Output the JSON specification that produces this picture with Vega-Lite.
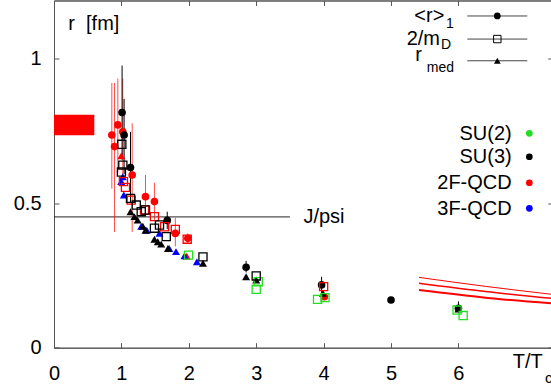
{
  "$schema": "https://vega.github.io/schema/vega-lite/v6.json",
  "width": 498.8,
  "height": 347.2,
  "autosize": {"type": "none"},
  "padding": {"left": 54, "top": 0.5, "right": 0, "bottom": 42},
  "config": {
    "view": {"stroke": "#555555", "strokeWidth": 1},
    "axis": {"grid": false, "domainColor": "#555555", "tickColor": "#555555", "labelFont": "Liberation Sans", "labelFontSize": 20, "labelColor": "#000000"},
    "text": {"font": "Liberation Sans", "fontSize": 20, "color": "#000000"}
  },
  "datasets": {
    "pts": [
      {"T": 0.858, "r": 0.735, "lo": 0.55, "hi": 0.915, "q": "r1", "g": "2F-QCD"},
      {"T": 0.898, "r": 0.695, "lo": 0.40, "hi": 0.915, "q": "r1", "g": "2F-QCD"},
      {"T": 0.947, "r": 0.77, "lo": 0.6, "hi": 0.93, "q": "r1", "g": "2F-QCD"},
      {"T": 1.02, "r": 0.746, "lo": 0.56, "hi": 0.93, "q": "r1", "g": "2F-QCD"},
      {"T": 1.16, "r": 0.597, "lo": 0.40, "hi": 0.776, "q": "r1", "g": "2F-QCD"},
      {"T": 1.357, "r": 0.522, "lo": 0.465, "hi": 0.597, "q": "r1", "g": "2F-QCD"},
      {"T": 1.49, "r": 0.505, "lo": 0.44, "hi": 0.57, "q": "r1", "g": "2F-QCD"},
      {"T": 1.8, "r": 0.395, "lo": 0.35, "hi": 0.448, "q": "r1", "g": "2F-QCD"},
      {"T": 1.985, "r": 0.378, "lo": 0.36, "hi": 0.395, "q": "r1", "g": "2F-QCD"},
      {"T": 4.01, "r": 0.176, "q": "r1", "g": "2F-QCD"},
      {"T": 1.03, "r": 0.574, "q": "mD", "g": "2F-QCD"},
      {"T": 1.06, "r": 0.554, "q": "mD", "g": "2F-QCD"},
      {"T": 1.145, "r": 0.51, "q": "mD", "g": "2F-QCD"},
      {"T": 1.343, "r": 0.476, "q": "mD", "g": "2F-QCD"},
      {"T": 1.49, "r": 0.453, "q": "mD", "g": "2F-QCD"},
      {"T": 1.64, "r": 0.418, "q": "mD", "g": "2F-QCD"},
      {"T": 1.8, "r": 0.409, "q": "mD", "g": "2F-QCD"},
      {"T": 1.976, "r": 0.375, "q": "mD", "g": "2F-QCD"},
      {"T": 4.0, "r": 0.211, "q": "mD", "g": "2F-QCD"},
      {"T": 0.997, "r": 0.663, "q": "rmed", "g": "2F-QCD"},
      {"T": 1.97, "r": 0.316, "q": "rmed", "g": "2F-QCD"},
      {"T": 0.997, "r": 0.574, "q": "rmed", "g": "3F-QCD"},
      {"T": 1.02, "r": 0.591, "q": "rmed", "g": "3F-QCD"},
      {"T": 1.036, "r": 0.528, "q": "rmed", "g": "3F-QCD"},
      {"T": 1.294, "r": 0.42, "q": "rmed", "g": "3F-QCD"},
      {"T": 1.377, "r": 0.406, "q": "rmed", "g": "3F-QCD"},
      {"T": 1.565, "r": 0.395, "q": "rmed", "g": "3F-QCD"},
      {"T": 1.71, "r": 0.343, "q": "rmed", "g": "3F-QCD"},
      {"T": 1.81, "r": 0.332, "q": "rmed", "g": "3F-QCD"},
      {"T": 1.936, "r": 0.318, "q": "rmed", "g": "3F-QCD"},
      {"T": 2.12, "r": 0.297, "q": "rmed", "g": "3F-QCD"},
      {"T": 1.996, "r": 0.32, "q": "mD", "g": "SU(2)"},
      {"T": 3.03, "r": 0.228, "q": "mD", "g": "SU(2)"},
      {"T": 3.0, "r": 0.202, "q": "mD", "g": "SU(2)"},
      {"T": 3.91, "r": 0.167, "q": "mD", "g": "SU(2)"},
      {"T": 4.02, "r": 0.173, "q": "mD", "g": "SU(2)"},
      {"T": 5.98, "r": 0.13, "q": "mD", "g": "SU(2)"},
      {"T": 6.07, "r": 0.111, "q": "mD", "g": "SU(2)"},
      {"T": 1.01, "r": 0.813, "lo": 0.65, "hi": 0.975, "q": "r1", "g": "SU(3)"},
      {"T": 1.04, "r": 0.735, "lo": 0.6, "hi": 0.86, "q": "r1", "g": "SU(3)"},
      {"T": 1.135, "r": 0.623, "lo": 0.5, "hi": 0.746, "q": "r1", "g": "SU(3)"},
      {"T": 1.68, "r": 0.44, "lo": 0.41, "hi": 0.47, "q": "r1", "g": "SU(3)"},
      {"T": 2.85, "r": 0.278, "lo": 0.26, "hi": 0.3, "q": "r1", "g": "SU(3)"},
      {"T": 3.97, "r": 0.217, "lo": 0.19, "hi": 0.245, "q": "r1", "g": "SU(3)"},
      {"T": 5.0, "r": 0.165, "q": "r1", "g": "SU(3)"},
      {"T": 6.0, "r": 0.136, "lo": 0.12, "hi": 0.16, "q": "r1", "g": "SU(3)"},
      {"T": 1.006, "r": 0.703, "q": "mD", "g": "SU(3)"},
      {"T": 1.021, "r": 0.631, "q": "mD", "g": "SU(3)"},
      {"T": 1.0, "r": 0.607, "q": "mD", "g": "SU(3)"},
      {"T": 1.135, "r": 0.516, "q": "mD", "g": "SU(3)"},
      {"T": 1.22, "r": 0.493, "q": "mD", "g": "SU(3)"},
      {"T": 1.294, "r": 0.47, "q": "mD", "g": "SU(3)"},
      {"T": 1.357, "r": 0.476, "q": "mD", "g": "SU(3)"},
      {"T": 1.49, "r": 0.413, "q": "mD", "g": "SU(3)"},
      {"T": 1.565, "r": 0.424, "q": "mD", "g": "SU(3)"},
      {"T": 1.665, "r": 0.384, "q": "mD", "g": "SU(3)"},
      {"T": 2.21, "r": 0.314, "q": "mD", "g": "SU(3)"},
      {"T": 3.0, "r": 0.248, "q": "mD", "g": "SU(3)"},
      {"T": 1.135, "r": 0.47, "q": "rmed", "g": "SU(3)"},
      {"T": 1.194, "r": 0.453, "q": "rmed", "g": "SU(3)"},
      {"T": 1.24, "r": 0.441, "q": "rmed", "g": "SU(3)"},
      {"T": 1.318, "r": 0.42, "q": "rmed", "g": "SU(3)"},
      {"T": 1.357, "r": 0.406, "q": "rmed", "g": "SU(3)"},
      {"T": 1.49, "r": 0.375, "q": "rmed", "g": "SU(3)"},
      {"T": 1.54, "r": 0.366, "q": "rmed", "g": "SU(3)"},
      {"T": 1.59, "r": 0.358, "q": "rmed", "g": "SU(3)"},
      {"T": 1.69, "r": 0.343, "q": "rmed", "g": "SU(3)"},
      {"T": 2.21, "r": 0.292, "q": "rmed", "g": "SU(3)"},
      {"T": 2.85, "r": 0.245, "q": "rmed", "g": "SU(3)"},
      {"T": 3.0, "r": 0.234, "q": "rmed", "g": "SU(3)"},
      {"T": 3.99, "r": 0.188, "q": "rmed", "g": "SU(3)"},
      {"T": 6.0, "r": 0.134, "q": "rmed", "g": "SU(3)"}
    ],
    "theory": [
      {"T": 5.415, "r": 0.243, "band": "upper"},
      {"T": 6.4, "r": 0.212, "band": "upper"},
      {"T": 7.4, "r": 0.184, "band": "upper"},
      {"T": 5.415, "r": 0.2225, "band": "central"},
      {"T": 6.4, "r": 0.194, "band": "central"},
      {"T": 7.4, "r": 0.17, "band": "central"},
      {"T": 5.415, "r": 0.199, "band": "lower"},
      {"T": 6.4, "r": 0.173, "band": "lower"},
      {"T": 7.4, "r": 0.153, "band": "lower"}
    ]
  },
  "resolve": {"axis": {"x": "independent", "y": "independent"}},
  "layer": [
    {
      "data": {"values": [{}]},
      "layer": [
        {
          "data": {"values": [{"x1": 0, "x2": 0.598, "y1": 0.734, "y2": 0.805}]},
          "mark": {"type": "rect", "color": "#ff0000"},
          "encoding": {
            "x": {"field": "x1", "type": "quantitative", "scale": {"domain": [0, 7.4], "nice": false, "zero": false},
              "axis": {"orient": "bottom", "values": [0, 1, 2, 3, 4, 5, 6], "format": "~g", "tickSize": -5, "labelPadding": 21, "title": null, "labelFlush": false}},
            "x2": {"field": "x2"},
            "y": {"field": "y1", "type": "quantitative", "scale": {"domain": [0, 1.2], "nice": false, "zero": false},
              "axis": {"orient": "left", "values": [0, 0.5, 1], "format": "~g", "tickSize": -5, "labelPadding": 18, "title": null, "labelFlush": false}},
            "y2": {"field": "y2"}
          }
        },
        {
          "data": {"values": [{"x1": 0, "x2": 3.5, "y": 0.452}]},
          "mark": {"type": "rule", "color": "#222222", "strokeWidth": 1},
          "encoding": {
            "x": {"field": "x1", "type": "quantitative"},
            "x2": {"field": "x2"},
            "y": {"field": "y", "type": "quantitative"}
          }
        },
        {
          "data": {"name": "theory"},
          "mark": {"type": "line", "color": "#ff0000", "clip": true, "interpolate": "monotone"},
          "encoding": {
            "x": {"field": "T", "type": "quantitative"},
            "y": {"field": "r", "type": "quantitative"},
            "detail": {"field": "band"},
            "strokeWidth": {"field": "band", "type": "nominal", "scale": {"domain": ["upper", "central", "lower"], "range": [1, 2, 1]}, "legend": null}
          }
        },
        {
          "data": {"name": "pts"},
          "transform": [{"filter": "isValid(datum.lo)"}],
          "mark": {"type": "rule", "strokeWidth": 1},
          "encoding": {
            "x": {"field": "T", "type": "quantitative"},
            "y": {"field": "lo", "type": "quantitative"},
            "y2": {"field": "hi"},
            "color": {"field": "g", "type": "nominal", "scale": {"domain": ["SU(2)", "SU(3)", "2F-QCD", "3F-QCD"], "range": ["#22dd22", "#000000", "#ff0000", "#0000ff"]}, "legend": null},
            "opacity": {"condition": {"test": "datum.g === '2F-QCD'", "value": 0.7}, "value": 1}
          }
        },
        {
          "data": {"name": "pts"},
          "transform": [{"filter": "datum.q !== 'mD'"}],
          "mark": {"type": "point", "filled": true, "opacity": 1},
          "encoding": {
            "x": {"field": "T", "type": "quantitative"},
            "y": {"field": "r", "type": "quantitative"},
            "shape": {"field": "q", "type": "nominal", "scale": {"domain": ["r1", "mD", "rmed"], "range": ["circle", "square", "triangle-up"]}, "legend": null},
            "size": {"field": "q", "type": "nominal", "scale": {"domain": ["r1", "mD", "rmed"], "range": [58, 64, 55]}, "legend": null},
            "color": {"field": "g", "type": "nominal", "legend": null}
          }
        },
        {
          "data": {"name": "pts"},
          "transform": [{"filter": "datum.q === 'mD'"}],
          "mark": {"type": "point", "filled": false, "opacity": 1, "strokeWidth": 1.3, "shape": "square", "size": 66},
          "encoding": {
            "x": {"field": "T", "type": "quantitative"},
            "y": {"field": "r", "type": "quantitative"},
            "color": {"field": "g", "type": "nominal", "legend": null}
          }
        },
        {
          "mark": {"type": "text", "text": "r\u00a0\u00a0[fm]", "align": "left", "baseline": "alphabetic"},
          "encoding": {"x": {"datum": 0.212, "type": "quantitative"}, "y": {"datum": 1.098, "type": "quantitative"}}
        },
        {
          "mark": {"type": "text", "text": "J/psi", "align": "left", "baseline": "alphabetic"},
          "encoding": {"x": {"datum": 3.7, "type": "quantitative"}, "y": {"datum": 0.431, "type": "quantitative"}}
        },
        {
          "mark": {"type": "text", "text": "T/T", "align": "left", "baseline": "alphabetic"},
          "encoding": {"x": {"datum": 6.806, "type": "quantitative"}, "y": {"datum": -0.0712, "type": "quantitative"}}
        },
        {
          "mark": {"type": "text", "text": "c", "align": "left", "baseline": "alphabetic", "fontSize": 15},
          "encoding": {"x": {"datum": 7.285, "type": "quantitative"}, "y": {"datum": -0.122, "type": "quantitative"}}
        },
        {
          "mark": {"type": "text", "text": "<r>", "align": "right", "baseline": "alphabetic"},
          "encoding": {"x": {"datum": 5.791, "type": "quantitative"}, "y": {"datum": 1.1272, "type": "quantitative"}}
        },
        {
          "mark": {"type": "text", "text": "1", "align": "left", "baseline": "alphabetic", "fontSize": 14},
          "encoding": {"x": {"datum": 5.816, "type": "quantitative"}, "y": {"datum": 1.1036, "type": "quantitative"}}
        },
        {
          "mark": {"type": "text", "text": "2/m", "align": "right", "baseline": "alphabetic"},
          "encoding": {"x": {"datum": 5.727, "type": "quantitative"}, "y": {"datum": 1.046, "type": "quantitative"}}
        },
        {
          "mark": {"type": "text", "text": "D", "align": "left", "baseline": "alphabetic", "fontSize": 14},
          "encoding": {"x": {"datum": 5.742, "type": "quantitative"}, "y": {"datum": 1.032, "type": "quantitative"}}
        },
        {
          "mark": {"type": "text", "text": "r", "align": "right", "baseline": "alphabetic"},
          "encoding": {"x": {"datum": 5.46, "type": "quantitative"}, "y": {"datum": 0.9917, "type": "quantitative"}}
        },
        {
          "mark": {"type": "text", "text": "med", "align": "right", "baseline": "alphabetic", "fontSize": 14},
          "encoding": {"x": {"datum": 5.935, "type": "quantitative"}, "y": {"datum": 0.9537, "type": "quantitative"}}
        },
        {
          "data": {"values": [{"y": 1.1465}, {"y": 1.0667}, {"y": 0.9917}]},
          "mark": {"type": "rule", "color": "#444444", "strokeWidth": 1},
          "encoding": {"x": {"datum": 6.132, "type": "quantitative"}, "x2": {"datum": 7.022}, "y": {"field": "y", "type": "quantitative"}}
        },
        {
          "mark": {"type": "point", "shape": "circle", "filled": true, "color": "#000000", "size": 45, "opacity": 1},
          "encoding": {"x": {"datum": 6.577, "type": "quantitative"}, "y": {"datum": 1.1465, "type": "quantitative"}}
        },
        {
          "mark": {"type": "point", "shape": "square", "filled": false, "color": "#000000", "size": 55, "strokeWidth": 1, "opacity": 1},
          "encoding": {"x": {"datum": 6.577, "type": "quantitative"}, "y": {"datum": 1.0667, "type": "quantitative"}}
        },
        {
          "mark": {"type": "point", "shape": "triangle-up", "filled": true, "color": "#000000", "size": 45, "opacity": 1},
          "encoding": {"x": {"datum": 6.577, "type": "quantitative"}, "y": {"datum": 0.9917, "type": "quantitative"}}
        },
        {
          "mark": {"type": "text", "text": "SU(2)", "align": "right", "baseline": "alphabetic"},
          "encoding": {"x": {"datum": 6.79, "type": "quantitative"}, "y": {"datum": 0.7177, "type": "quantitative"}}
        },
        {
          "mark": {"type": "text", "text": "SU(3)", "align": "right", "baseline": "alphabetic"},
          "encoding": {"x": {"datum": 6.79, "type": "quantitative"}, "y": {"datum": 0.6371, "type": "quantitative"}}
        },
        {
          "mark": {"type": "text", "text": "2F-QCD", "align": "right", "baseline": "alphabetic"},
          "encoding": {"x": {"datum": 6.79, "type": "quantitative"}, "y": {"datum": 0.5473, "type": "quantitative"}}
        },
        {
          "mark": {"type": "text", "text": "3F-QCD", "align": "right", "baseline": "alphabetic"},
          "encoding": {"x": {"datum": 6.79, "type": "quantitative"}, "y": {"datum": 0.4592, "type": "quantitative"}}
        },
        {
          "data": {"values": [{"g": "SU(2)", "y": 0.7408}, {"g": "SU(3)", "y": 0.66}, {"g": "2F-QCD", "y": 0.5701}, {"g": "3F-QCD", "y": 0.4817}]},
          "mark": {"type": "point", "shape": "circle", "filled": true, "size": 45, "opacity": 1},
          "encoding": {"x": {"datum": 7.052, "type": "quantitative"}, "y": {"field": "y", "type": "quantitative"}, "color": {"field": "g", "type": "nominal", "legend": null}}
        }
      ]
    },
    {
      "data": {"values": [{}]},
      "mark": {"type": "point", "opacity": 0},
      "encoding": {
        "x": {"datum": 0, "type": "quantitative", "axis": {"orient": "top", "values": [0, 1, 2, 3, 4, 5, 6], "labels": false, "tickSize": -5, "title": null}},
        "y": {"datum": 0, "type": "quantitative", "axis": {"orient": "right", "values": [0, 0.5, 1], "labels": false, "tickSize": -5, "title": null}}
      }
    }
  ]
}
